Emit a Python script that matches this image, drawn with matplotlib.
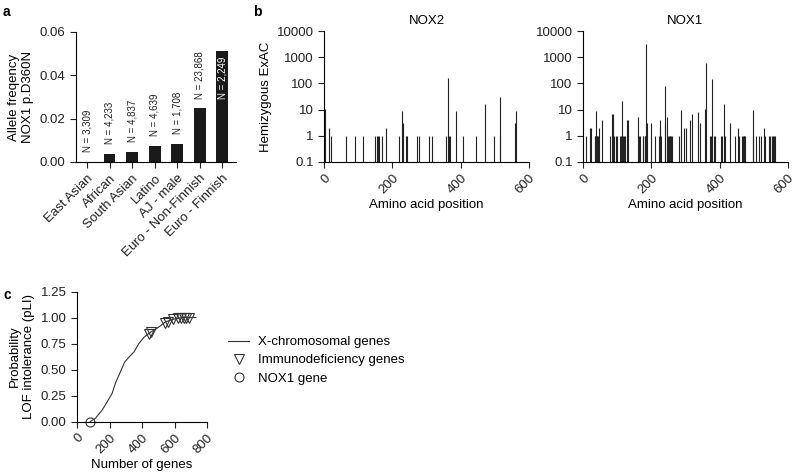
import numpy as np
import matplotlib
matplotlib.use('Agg')
import matplotlib.pyplot as plt
from matplotlib.ticker import LogLocator, NullFormatter, FormatStrFormatter

plt.rcParams['font.family'] = ['Liberation Sans', 'DejaVu Sans']
plt.rcParams['font.size'] = 9.5
plt.rcParams['axes.linewidth'] = 0.8

#%% data
# panel a - allele frequency of NOX1 p.D360N
populations = ['East Asian', 'African', 'South Asian', 'Latino', 'AJ - male',
               'Euro - Non-Finnish', 'Euro - Finnish']
allele_freq = [0.0, 0.0037, 0.0046, 0.0074, 0.0085, 0.0248, 0.0512]
n_labels = ['N = 3,309', 'N = 4,233', 'N = 4,837', 'N = 4,639', 'N = 1,708',
            'N = 23,868', 'N = 2,249']

# panel b - hemizygous counts in ExAC along the protein
nox2_pos = [3, 14, 21, 64, 92, 115, 150, 154, 158, 160, 170, 181, 220, 228, 230,
            240, 243, 273, 277, 307, 317, 357, 363, 366, 368, 386, 407, 445, 471,
            497, 514, 516, 560, 561]
nox2_hemi = [11, 2, 1, 1, 1, 1, 1, 1, 1, 1, 1, 2, 1, 9, 3,
             1, 1, 1, 1, 1, 1, 1, 160, 1, 1, 9, 1, 1, 16,
             1, 1, 30, 3, 9]

nox1_pos = [8, 20, 22, 34, 36, 38, 40, 42, 44, 46, 56, 78, 85, 87, 90, 97, 99,
            108, 112, 114, 116, 120, 122, 130, 133, 161, 163, 166, 175, 177, 180,
            182, 185, 188, 198, 210, 221, 224, 226, 229, 239, 240, 247, 250, 252,
            254, 256, 258, 260, 282, 288, 295, 302, 314, 318, 337, 343, 357, 361,
            372, 375, 379, 383, 386, 405, 407, 413, 417, 429, 445, 454, 456, 466,
            468, 470, 472, 474, 497, 499, 505, 516, 520, 530, 532, 544, 548, 552,
            555, 559, 563]
nox1_hemi = [1, 2, 2, 1, 1, 9, 1, 1, 1, 2, 4, 1, 7, 7, 1, 1, 1,
             1, 1, 22, 1, 1, 1, 4, 4, 5, 1, 1, 1, 1, 1,
             1, 3300, 3, 3, 1, 1, 2, 4, 1, 77, 3, 5, 1, 1,
             1, 1, 1, 1, 1, 10, 2, 2, 4, 7, 8, 3, 11, 600,
             1, 1, 150, 1, 1, 1, 1, 16, 1, 3, 1, 2, 1, 1,
             1, 1, 1, 1, 10, 1, 1, 1, 1, 2, 1, 1, 1, 1,
             1, 1, 1]

# panel c - pLI of X-chromosomal genes
genes_n = [82, 113, 155, 186, 216, 237, 268, 293, 320, 351, 381, 412, 454, 505,
           546, 598, 649, 732]
genes_pli = [0.0, 0.03, 0.11, 0.19, 0.27, 0.37, 0.48, 0.57, 0.62, 0.67, 0.75,
             0.81, 0.86, 0.91, 0.96, 0.985, 1.0, 1.0]
immuno_n = [443, 458, 540, 557, 588, 619, 639, 656, 672, 689]
immuno_pli = [0.84, 0.86, 0.95, 0.96, 0.985, 1.0, 1.0, 1.0, 1.0, 1.0]
nox1_n = [82]
nox1_pli = [0.0]

W, H = 800, 473
fig = plt.figure(figsize=(8, 4.73), dpi=100, facecolor='white')


def box(l, t, r, b):
    return [l / W, 1 - b / H, (r - l) / W, (b - t) / H]


def clean(ax):
    ax.spines['top'].set_visible(False)
    ax.spines['right'].set_visible(False)
    ax.tick_params(direction='out', length=4, width=0.8, colors='#222')


#%% panel a
ax = fig.add_axes(box(76, 32, 236, 162))
x = np.arange(len(populations))
ax.bar(x, allele_freq, width=0.53, color='#1a1a1a')
ax.set_xlim(-0.49, 6.62)
ax.set_ylim(0, 0.06)
ax.set_yticks([0, 0.02, 0.04, 0.06])
ax.yaxis.set_major_formatter(FormatStrFormatter('%.2f'))
ax.set_xticks(x)
ax.set_xticklabels(populations, rotation=45, ha='right', rotation_mode='anchor')
ax.set_ylabel('Allele freqency\nNOX1 p.D360N', labelpad=4)
clean(ax)
for i, (h, lab) in enumerate(zip(allele_freq, n_labels)):
    if i == len(populations) - 1:
        ax.annotate(lab, (i, h), xytext=(0, -4), textcoords='offset points',
                    rotation=90, ha='center', va='top', fontsize=7, color='white')
    else:
        ax.annotate(lab, (i, h), xytext=(0, 7), textcoords='offset points',
                    rotation=90, ha='center', va='bottom', fontsize=7, color='#222')

#%% panel b
for l, r, pos, hemi, title in [(324, 529, nox2_pos, nox2_hemi, 'NOX2'),
                               (583, 788, nox1_pos, nox1_hemi, 'NOX1')]:
    ax = fig.add_axes(box(l, 31, r, 162))
    ax.vlines(pos, 0.1, hemi, color='#222', linewidth=0.8)
    ax.set_yscale('log')
    ax.set_ylim(0.1, 10000)
    ax.set_xlim(0, 600)
    ax.set_yticks([0.1, 1, 10, 100, 1000, 10000])
    ax.set_yticklabels(['0.1', '1', '10', '100', '1000', '10000'])
    ax.yaxis.set_minor_locator(LogLocator(base=10, subs=np.arange(2, 10)))
    ax.yaxis.set_minor_formatter(NullFormatter())
    ax.set_xticks([0, 200, 400, 600])
    ax.set_xticklabels(['0', '200', '400', '600'], rotation=45, ha='right',
                       rotation_mode='anchor')
    ax.set_xlabel('Amino acid position', labelpad=2)
    ax.set_title(title, fontsize=9.5, pad=5)
    clean(ax)
    ax.tick_params(which='minor', length=2, width=0.6)
    if title == 'NOX2':
        ax.set_ylabel('Hemizygous ExAC', labelpad=3)

#%% panel c
ax = fig.add_axes(box(77, 291.5, 207, 421.5))
ax.plot(genes_n, genes_pli, color='#333', linewidth=0.8, label='X-chromosomal genes')
ax.plot(immuno_n, immuno_pli, linestyle='none', marker='v', markersize=6.5,
        markerfacecolor='none', markeredgecolor='#333', markeredgewidth=0.8,
        label='Immunodeficiency genes')
ax.plot(nox1_n, nox1_pli, linestyle='none', marker='o', markersize=6.5,
        markerfacecolor='none', markeredgecolor='#333', markeredgewidth=0.8,
        label='NOX1 gene', clip_on=False)
ax.set_xlim(0, 800)
ax.set_ylim(0, 1.25)
ax.set_xticks([0, 200, 400, 600, 800])
ax.set_xticklabels(['0', '200', '400', '600', '800'], rotation=45, ha='right',
                   rotation_mode='anchor')
ax.set_yticks([0, 0.25, 0.5, 0.75, 1.0, 1.25])
ax.yaxis.set_major_formatter(FormatStrFormatter('%.2f'))
ax.set_xlabel('Number of genes', labelpad=2)
ax.set_ylabel('Probability\nLOF intolerance (pLI)', labelpad=4)
clean(ax)
fig.legend(loc='upper left', bbox_to_anchor=(228 / W, 1 - 336 / H),
           bbox_transform=fig.transFigure, frameon=False, borderpad=0,
           borderaxespad=0, handlelength=1.6, handletextpad=0.7,
           labelspacing=0.45, fontsize=9.5)

#%% panel letters
for lab, px, py in [('a', 3, 12), ('b', 253, 12), ('c', 3, 295)]:
    fig.text(px / W, 1 - py / H, lab, fontsize=10, fontweight='bold', va='center')

plt.savefig('out.png', dpi=100, facecolor='white')
